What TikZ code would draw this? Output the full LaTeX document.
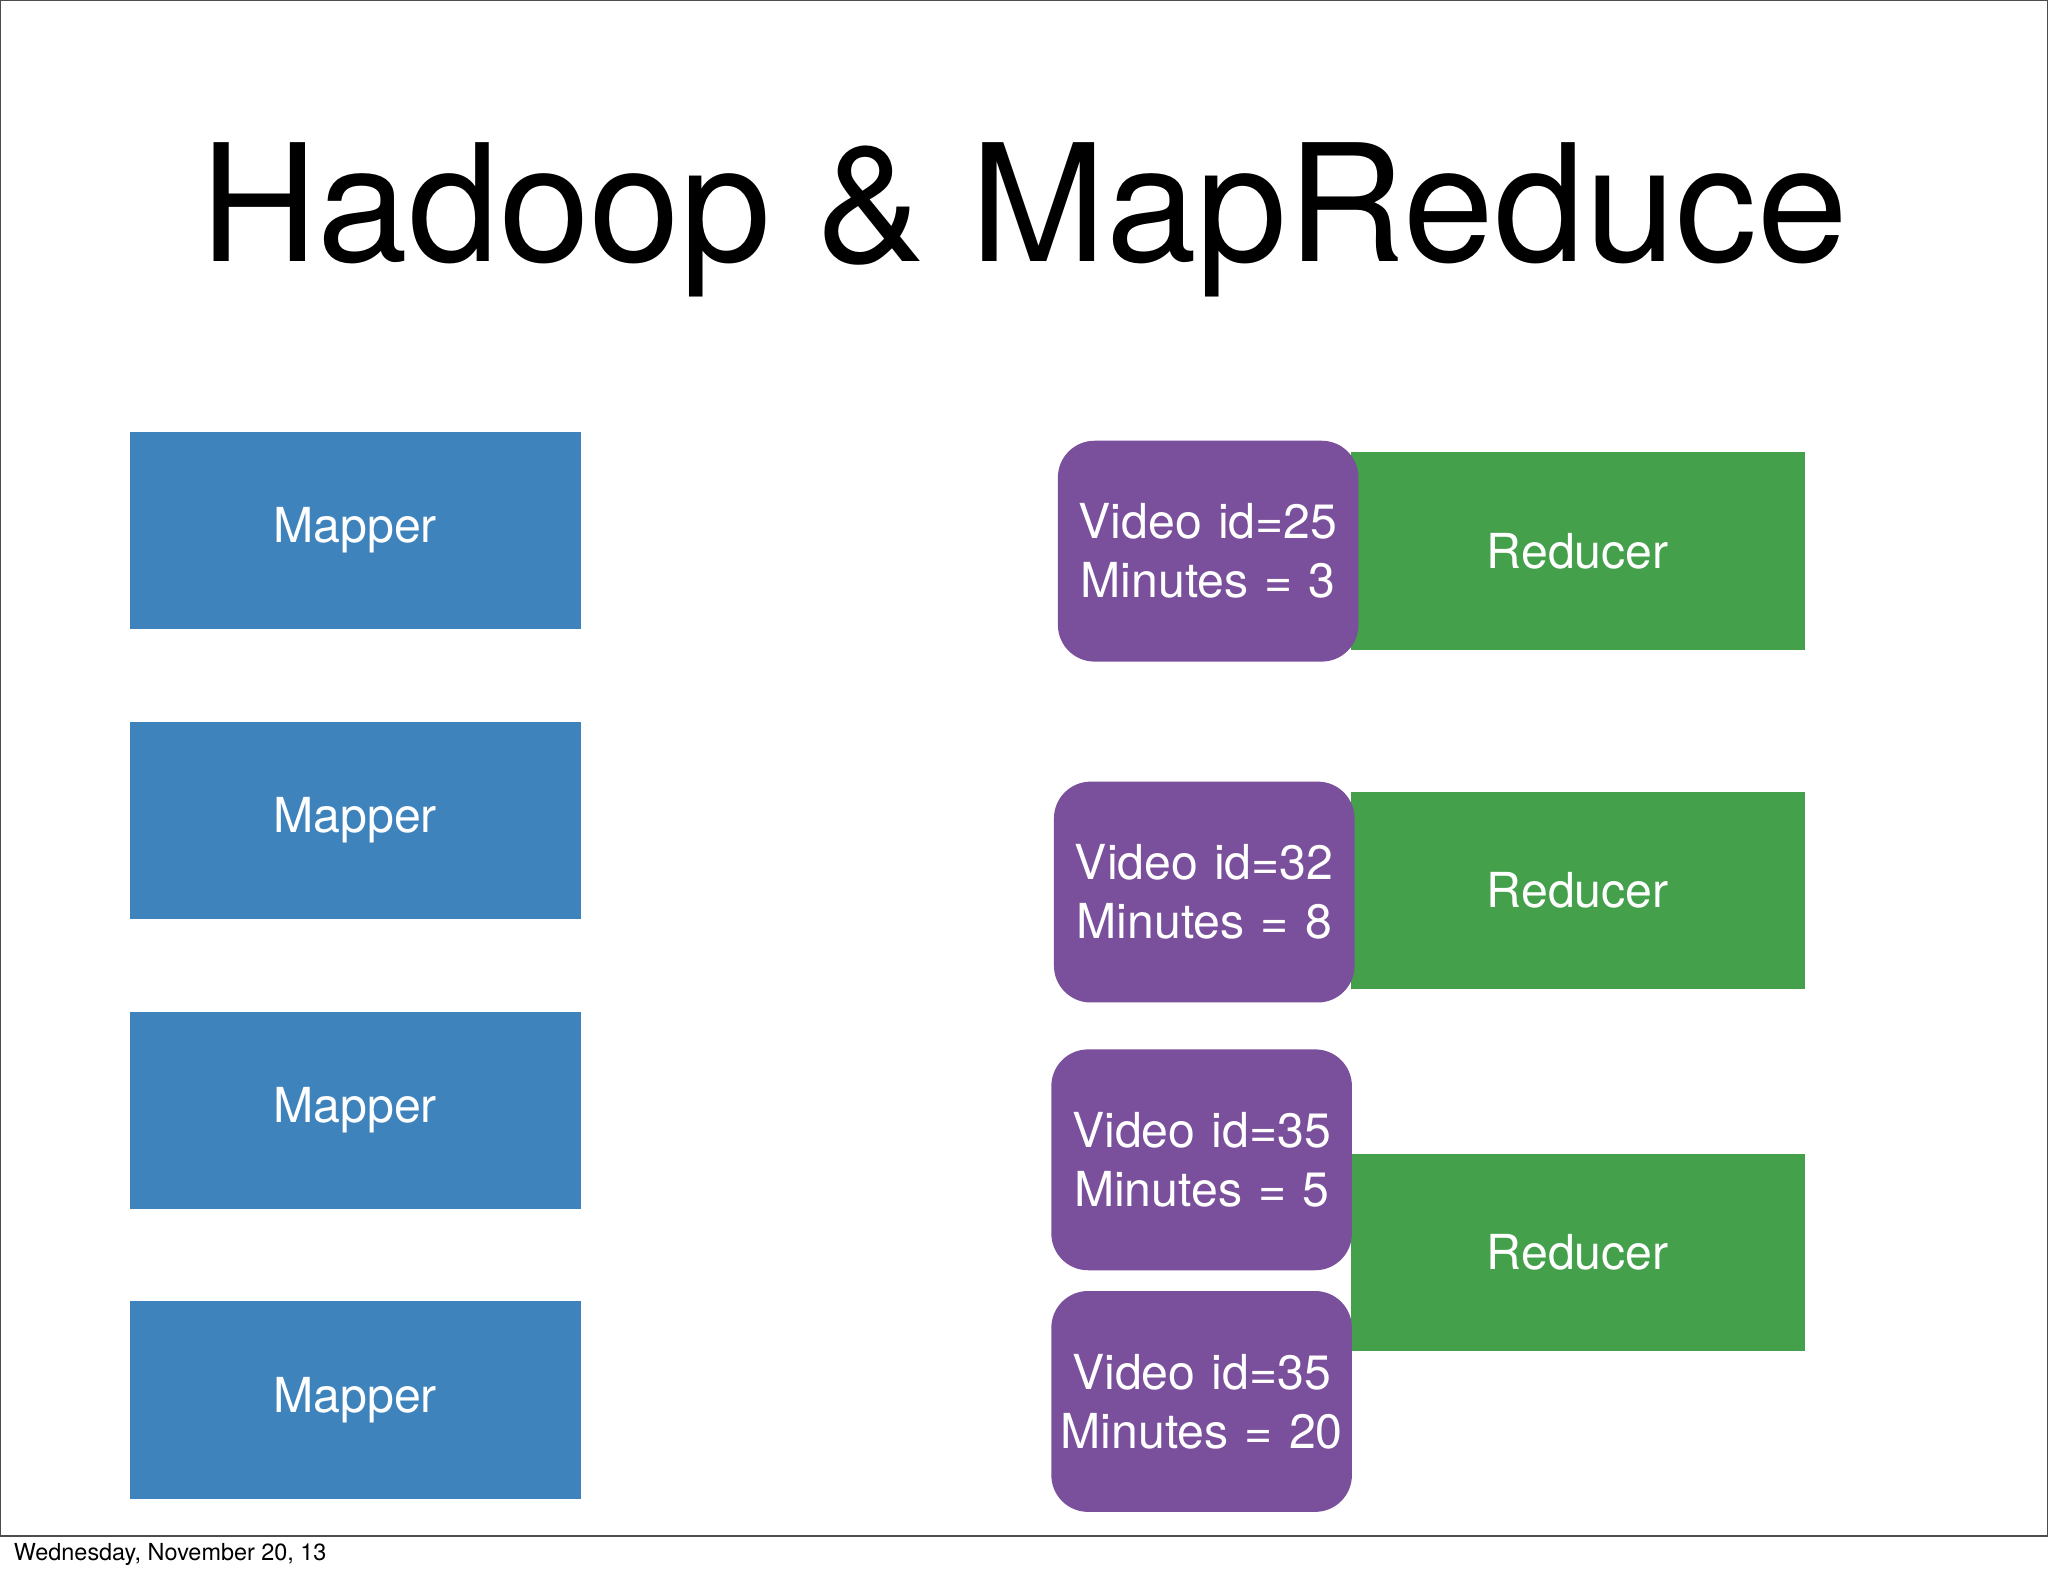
\documentclass[tikz,border=0pt]{standalone}
\usepackage{fontspec}
\setmainfont{TeX Gyre Heros}
\usetikzlibrary{positioning}
\definecolor{mapblue}{HTML}{3F83BC}
\definecolor{redgreen}{HTML}{44A04B}
\definecolor{keypurple}{HTML}{7A4F9B}
\begin{document}
\begin{tikzpicture}[x=0.01cm,y=-0.01cm,
    mapbox/.style={fill=mapblue, text=white, minimum width=3.45cm, minimum height=1.51cm, font=\fontsize{10.5}{13}\selectfont},
    redbox/.style={fill=redgreen, text=white, minimum width=3.47cm, minimum height=1.51cm, font=\fontsize{10.5}{13}\selectfont},
    keybox/.style={fill=keypurple, text=white, rounded corners=8pt, inner sep=0pt, text width=2.3cm, minimum height=1.69cm, align=center, font=\fontsize{10.5}{12.8}\selectfont}
]
\useasboundingbox (0,0) rectangle (1568,1207);
\fill[white] (0,0) rectangle (1568,1207);
\draw[black!70, line width=0.4pt] (0,0) rectangle (1568,1176);
\node[font=\fontsize{35.5}{40}\selectfont] (title) at (784,168) {Hadoop \& MapReduce};

% Mappers
\node[mapbox] (map1) at (272,406) {Mapper};
\node[mapbox] (map2) at (272,628) {Mapper};
\node[mapbox] (map3) at (272,850) {Mapper};
\node[mapbox] (map4) at (272,1072) {Mapper};

% Reducers
\node[redbox] (red1) at (1208,422) {Reducer};
\node[redbox] (red2) at (1208,682) {Reducer};
\node[redbox] (red3) at (1208,959) {Reducer};

% Key/value pairs
\node[keybox] (kv1) at (925,422) {Video id=25\\Minutes = 3};
\node[keybox] (kv2) at (922,683) {Video id=32\\Minutes = 8};
\node[keybox] (kv3) at (920,888) {Video id=35\\Minutes = 5};
\node[keybox] (kv4) at (920,1073) {Video id=35\\Minutes = 20};

\node[anchor=west, inner sep=0pt, font=\fontsize{5.1}{6}\selectfont] (date) at (10,1190) {Wednesday, November 20, 13};
\end{tikzpicture}
\end{document}
